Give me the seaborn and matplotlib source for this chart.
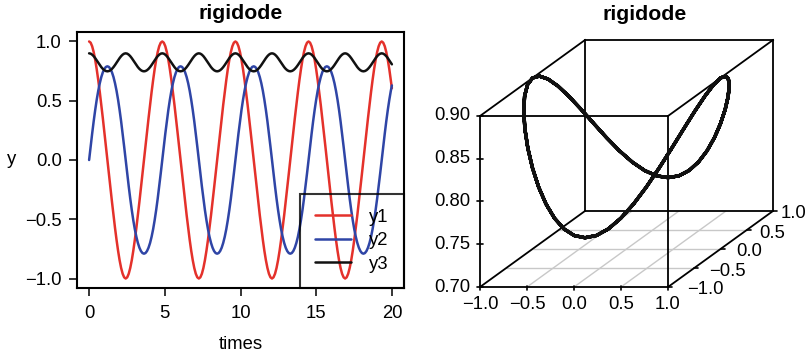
import numpy as np
import pandas as pd
import matplotlib
matplotlib.use("Agg")
import matplotlib.pyplot as plt
from matplotlib.lines import Line2D
import seaborn as sns

# ---------------- data ----------------
times = [0.000, 0.101, 0.201, 0.302, 0.403, 0.503, 0.604, 0.705, 0.805, 0.906, 1.007, 1.107,
         1.208, 1.309, 1.409, 1.510, 1.611, 1.711, 1.812, 1.913, 2.013, 2.114, 2.215, 2.315,
         2.416, 2.517, 2.617, 2.718, 2.819, 2.919, 3.020, 3.121, 3.221, 3.322, 3.423, 3.523,
         3.624, 3.725, 3.825, 3.926, 4.027, 4.127, 4.228, 4.328, 4.429, 4.530, 4.630, 4.731,
         4.832, 4.932, 5.033, 5.134, 5.234, 5.335, 5.436, 5.536, 5.637, 5.738, 5.838, 5.939,
         6.040, 6.140, 6.241, 6.342, 6.442, 6.543, 6.644, 6.744, 6.845, 6.946, 7.046, 7.147,
         7.248, 7.348, 7.449, 7.550, 7.650, 7.751, 7.852, 7.952, 8.053, 8.154, 8.254, 8.355,
         8.456, 8.556, 8.657, 8.758, 8.858, 8.959, 9.060, 9.160, 9.261, 9.362, 9.462, 9.563,
         9.664, 9.764, 9.865, 9.966, 10.066, 10.167, 10.268, 10.368, 10.469, 10.570, 10.670, 10.771,
         10.872, 10.972, 11.073, 11.174, 11.274, 11.375, 11.476, 11.576, 11.677, 11.778, 11.878, 11.979,
         12.080, 12.180, 12.281, 12.381, 12.482, 12.583, 12.683, 12.784, 12.885, 12.985, 13.086, 13.187,
         13.287, 13.388, 13.489, 13.589, 13.690, 13.791, 13.891, 13.992, 14.093, 14.193, 14.294, 14.395,
         14.495, 14.596, 14.697, 14.797, 14.898, 14.999, 15.099, 15.200, 15.301, 15.401, 15.502, 15.603,
         15.703, 15.804, 15.905, 16.005, 16.106, 16.207, 16.307, 16.408, 16.509, 16.609, 16.710, 16.811,
         16.911, 17.012, 17.113, 17.213, 17.314, 17.415, 17.515, 17.616, 17.717, 17.817, 17.918, 18.019,
         18.119, 18.220, 18.321, 18.421, 18.522, 18.623, 18.723, 18.824, 18.925, 19.025, 19.126, 19.227,
         19.327, 19.428, 19.529, 19.629, 19.730, 19.831, 19.931, 20.000]

y1 = [1.0000, 0.9898, 0.9596, 0.9107, 0.8451, 0.7653, 0.6738, 0.5731, 0.4655, 0.3529, 0.2369, 0.1190,
      0.0000, -0.1190, -0.2369, -0.3529, -0.4655, -0.5731, -0.6738, -0.7653, -0.8451, -0.9107, -0.9596, -0.9898,
      -1.0000, -0.9898, -0.9596, -0.9107, -0.8451, -0.7653, -0.6738, -0.5731, -0.4655, -0.3529, -0.2369, -0.1190,
      0.0000, 0.1190, 0.2369, 0.3529, 0.4655, 0.5731, 0.6738, 0.7653, 0.8451, 0.9107, 0.9596, 0.9898,
      1.0000, 0.9898, 0.9596, 0.9107, 0.8451, 0.7653, 0.6738, 0.5731, 0.4655, 0.3529, 0.2369, 0.1190,
      0.0000, -0.1190, -0.2369, -0.3529, -0.4655, -0.5731, -0.6738, -0.7653, -0.8451, -0.9107, -0.9596, -0.9898,
      -1.0000, -0.9898, -0.9596, -0.9107, -0.8451, -0.7653, -0.6738, -0.5731, -0.4655, -0.3529, -0.2369, -0.1190,
      0.0000, 0.1190, 0.2369, 0.3529, 0.4655, 0.5731, 0.6738, 0.7653, 0.8451, 0.9107, 0.9596, 0.9898,
      1.0000, 0.9898, 0.9596, 0.9107, 0.8451, 0.7653, 0.6738, 0.5731, 0.4655, 0.3529, 0.2369, 0.1190,
      0.0000, -0.1190, -0.2369, -0.3529, -0.4655, -0.5731, -0.6738, -0.7653, -0.8451, -0.9107, -0.9596, -0.9898,
      -1.0000, -0.9898, -0.9596, -0.9107, -0.8451, -0.7653, -0.6738, -0.5731, -0.4655, -0.3529, -0.2369, -0.1190,
      0.0000, 0.1190, 0.2369, 0.3529, 0.4655, 0.5731, 0.6738, 0.7653, 0.8451, 0.9107, 0.9596, 0.9898,
      1.0000, 0.9898, 0.9596, 0.9107, 0.8451, 0.7653, 0.6738, 0.5731, 0.4655, 0.3529, 0.2369, 0.1190,
      0.0000, -0.1190, -0.2369, -0.3529, -0.4655, -0.5731, -0.6738, -0.7653, -0.8451, -0.9107, -0.9596, -0.9898,
      -1.0000, -0.9898, -0.9596, -0.9107, -0.8451, -0.7653, -0.6738, -0.5731, -0.4655, -0.3529, -0.2369, -0.1190,
      0.0000, 0.1190, 0.2369, 0.3529, 0.4655, 0.5731, 0.6738, 0.7653, 0.8451, 0.9107, 0.9596, 0.9898,
      1.0000, 0.9898, 0.9596, 0.9107, 0.8451, 0.7653, 0.6738, 0.6058]

y2 = [0.0000, 0.1127, 0.2225, 0.3266, 0.4226, 0.5089, 0.5842, 0.6479, 0.6997, 0.7397, 0.7681, 0.7850,
      0.7906, 0.7850, 0.7681, 0.7397, 0.6997, 0.6479, 0.5842, 0.5089, 0.4226, 0.3266, 0.2225, 0.1127,
      0.0000, -0.1127, -0.2225, -0.3266, -0.4226, -0.5089, -0.5842, -0.6479, -0.6997, -0.7397, -0.7681, -0.7850,
      -0.7906, -0.7850, -0.7681, -0.7397, -0.6997, -0.6479, -0.5842, -0.5089, -0.4226, -0.3266, -0.2225, -0.1127,
      0.0000, 0.1127, 0.2225, 0.3266, 0.4226, 0.5089, 0.5842, 0.6479, 0.6997, 0.7397, 0.7681, 0.7850,
      0.7906, 0.7850, 0.7681, 0.7397, 0.6997, 0.6479, 0.5842, 0.5089, 0.4226, 0.3266, 0.2225, 0.1127,
      0.0000, -0.1127, -0.2225, -0.3266, -0.4226, -0.5089, -0.5842, -0.6479, -0.6997, -0.7397, -0.7681, -0.7850,
      -0.7906, -0.7850, -0.7681, -0.7397, -0.6997, -0.6479, -0.5842, -0.5089, -0.4226, -0.3266, -0.2225, -0.1127,
      0.0000, 0.1127, 0.2225, 0.3266, 0.4226, 0.5089, 0.5842, 0.6479, 0.6997, 0.7397, 0.7681, 0.7850,
      0.7906, 0.7850, 0.7681, 0.7397, 0.6997, 0.6479, 0.5842, 0.5089, 0.4226, 0.3266, 0.2225, 0.1127,
      0.0000, -0.1127, -0.2225, -0.3266, -0.4226, -0.5089, -0.5842, -0.6479, -0.6997, -0.7397, -0.7681, -0.7850,
      -0.7906, -0.7850, -0.7681, -0.7397, -0.6997, -0.6479, -0.5842, -0.5089, -0.4226, -0.3266, -0.2225, -0.1127,
      0.0000, 0.1127, 0.2225, 0.3266, 0.4226, 0.5089, 0.5842, 0.6479, 0.6997, 0.7397, 0.7681, 0.7850,
      0.7906, 0.7850, 0.7681, 0.7397, 0.6997, 0.6479, 0.5842, 0.5089, 0.4226, 0.3266, 0.2225, 0.1127,
      0.0000, -0.1127, -0.2225, -0.3266, -0.4226, -0.5089, -0.5842, -0.6479, -0.6997, -0.7397, -0.7681, -0.7850,
      -0.7906, -0.7850, -0.7681, -0.7397, -0.6997, -0.6479, -0.5842, -0.5089, -0.4226, -0.3266, -0.2225, -0.1127,
      0.0000, 0.1127, 0.2225, 0.3266, 0.4226, 0.5089, 0.5842, 0.6290]

y3 = [0.9000, 0.8972, 0.8889, 0.8760, 0.8594, 0.8405, 0.8207, 0.8013, 0.7837, 0.7689, 0.7577, 0.7507,
      0.7483, 0.7507, 0.7577, 0.7689, 0.7837, 0.8013, 0.8207, 0.8405, 0.8594, 0.8760, 0.8889, 0.8972,
      0.9000, 0.8972, 0.8889, 0.8760, 0.8594, 0.8405, 0.8207, 0.8013, 0.7837, 0.7689, 0.7577, 0.7507,
      0.7483, 0.7507, 0.7577, 0.7689, 0.7837, 0.8013, 0.8207, 0.8405, 0.8594, 0.8760, 0.8889, 0.8972,
      0.9000, 0.8972, 0.8889, 0.8760, 0.8594, 0.8405, 0.8207, 0.8013, 0.7837, 0.7689, 0.7577, 0.7507,
      0.7483, 0.7507, 0.7577, 0.7689, 0.7837, 0.8013, 0.8207, 0.8405, 0.8594, 0.8760, 0.8889, 0.8972,
      0.9000, 0.8972, 0.8889, 0.8760, 0.8594, 0.8405, 0.8207, 0.8013, 0.7837, 0.7689, 0.7577, 0.7507,
      0.7483, 0.7507, 0.7577, 0.7689, 0.7837, 0.8013, 0.8207, 0.8405, 0.8594, 0.8760, 0.8889, 0.8972,
      0.9000, 0.8972, 0.8889, 0.8760, 0.8594, 0.8405, 0.8207, 0.8013, 0.7837, 0.7689, 0.7577, 0.7507,
      0.7483, 0.7507, 0.7577, 0.7689, 0.7837, 0.8013, 0.8207, 0.8405, 0.8594, 0.8760, 0.8889, 0.8972,
      0.9000, 0.8972, 0.8889, 0.8760, 0.8594, 0.8405, 0.8207, 0.8013, 0.7837, 0.7689, 0.7577, 0.7507,
      0.7483, 0.7507, 0.7577, 0.7689, 0.7837, 0.8013, 0.8207, 0.8405, 0.8594, 0.8760, 0.8889, 0.8972,
      0.9000, 0.8972, 0.8889, 0.8760, 0.8594, 0.8405, 0.8207, 0.8013, 0.7837, 0.7689, 0.7577, 0.7507,
      0.7483, 0.7507, 0.7577, 0.7689, 0.7837, 0.8013, 0.8207, 0.8405, 0.8594, 0.8760, 0.8889, 0.8972,
      0.9000, 0.8972, 0.8889, 0.8760, 0.8594, 0.8405, 0.8207, 0.8013, 0.7837, 0.7689, 0.7577, 0.7507,
      0.7483, 0.7507, 0.7577, 0.7689, 0.7837, 0.8013, 0.8207, 0.8405, 0.8594, 0.8760, 0.8889, 0.8972,
      0.9000, 0.8972, 0.8889, 0.8760, 0.8594, 0.8405, 0.8207, 0.8073]

series_names = ["y1", "y2", "y3"]
series_colors = ["#E4312B", "#2F45A6", "#111111"]
x_ticks = [0, 5, 10, 15, 20]
y_ticks = [-1.0, -0.5, 0.0, 0.5, 1.0]
y_ticklabels = ["\u22121.0", "\u22120.5", "0.0", "0.5", "1.0"]
box_x = [-1.0, 1.0]
box_y = [-1.0, 1.0]
box_z = [0.70, 0.90]
ax3_x_ticks = [-1.0, -0.5, 0.0, 0.5, 1.0]
ax3_x_labels = ["\u22121.0", "\u22120.5", "0.0", "0.5", "1.0"]
ax3_y_ticks = [-1.0, -0.5, 0.0, 0.5, 1.0]
ax3_y_labels = ["\u22121.0", "\u22120.5", "0.0", "0.5", "1.0"]
ax3_z_ticks = [0.70, 0.75, 0.80, 0.85, 0.90]
ax3_z_labels = ["0.70", "0.75", "0.80", "0.85", "0.90"]

# ---------------- style ----------------
sns.set_theme(style="ticks")
plt.rcParams["font.family"] = ["Liberation Sans", "DejaVu Sans"]
plt.rcParams["text.color"] = "black"
plt.rcParams["axes.labelcolor"] = "black"
plt.rcParams["xtick.color"] = "black"
plt.rcParams["ytick.color"] = "black"
plt.rcParams["axes.edgecolor"] = "black"
FS = 13.3
TFS = 15.3
LW = 1.8

W, H = 809, 357
fig = plt.figure(figsize=(W / 100, H / 100), dpi=100)

# ---------------- left panel ----------------
ax = fig.add_axes([77 / W, 1 - 288 / H, (404 - 77) / W, (288 - 32) / H])
df = pd.DataFrame({"times": times, "y1": y1, "y2": y2, "y3": y3})
long = df.melt(id_vars="times", var_name="var", value_name="y")
sns.lineplot(data=long, x="times", y="y", hue="var", palette=dict(zip(series_names, series_colors)),
             estimator=None, legend=False, linewidth=LW, ax=ax)
ax.set_xlim(-0.8, 20.8)
ax.set_ylim(-1.08, 1.08)
ax.set_xticks(x_ticks)
ax.set_xticklabels([str(t) for t in x_ticks], fontsize=FS)
ax.set_yticks(y_ticks)
ax.set_yticklabels(y_ticklabels, fontsize=FS)
ax.tick_params(direction="out", length=6, width=1.1)
ax.tick_params(axis="x", pad=6)
ax.tick_params(axis="y", pad=5)
for s in ax.spines.values():
    s.set_linewidth(1.5)
    s.set_color("black")
ax.set_xlabel("times", fontsize=FS)
ax.xaxis.label.set_va("center")
ax.xaxis.set_label_coords(0.5, -0.222)
ax.set_ylabel("y", fontsize=FS, rotation=0, va="center", ha="center")
ax.yaxis.set_label_coords(-0.199, 0.5)
ax.set_title("rigidode", fontsize=TFS, fontweight="bold", pad=9.2)
handles = [Line2D([], [], color=c, lw=LW) for c in series_colors]
leg = ax.legend(handles, series_names, loc="lower right", bbox_to_anchor=(1, 0), borderaxespad=0,
                fancybox=False, frameon=True, fontsize=FS, handlelength=1.95, handletextpad=1.0,
                labelspacing=0.35, borderpad=0.82)
leg.get_frame().set_edgecolor("black")
leg.get_frame().set_facecolor("none")
leg.get_frame().set_linewidth(1.5)

# ---------------- right panel (oblique 3D projection) ----------------
ax2 = fig.add_axes([410 / W, 0, (W - 410) / W, 1])
S = 188.0
ax2.set_xlim(-70 / S, (W - 480) / S)
ax2.set_ylim((287 - H) / S, 287 / S)
ax2.axis("off")
FH, DU, DV = 171 / S, 105 / S, 76 / S


def proj(x, y, z):
    x = np.asarray(x, float); y = np.asarray(y, float); z = np.asarray(z, float)
    s = (y - box_y[0]) / (box_y[1] - box_y[0])
    u = (x - box_x[0]) / (box_x[1] - box_x[0]) + s * DU
    v = (z - box_z[0]) / (box_z[1] - box_z[0]) * FH + s * DV
    return u, v


def seg(p, q, **kw):
    u, v = proj([p[0], q[0]], [p[1], q[1]], [p[2], q[2]])
    ax2.plot(u, v, **kw)


# grid on the bottom face
grid_kw = dict(color="#c8c8c8", lw=1.0, solid_capstyle="butt")
for xt in ax3_x_ticks[1:-1]:
    seg((xt, box_y[0], box_z[0]), (xt, box_y[1], box_z[0]), **grid_kw)
for yt in ax3_y_ticks[1:-1]:
    seg((box_x[0], yt, box_z[0]), (box_x[1], yt, box_z[0]), **grid_kw)

# box edges
edge_kw = dict(color="black", lw=1.3, solid_capstyle="projecting")
X0, X1 = box_x; Y0, Y1 = box_y; Z0, Z1 = box_z
for (a, b) in [((X0, Y0, Z0), (X1, Y0, Z0)), ((X0, Y0, Z1), (X1, Y0, Z1)),
               ((X0, Y0, Z0), (X0, Y0, Z1)), ((X1, Y0, Z0), (X1, Y0, Z1)),
               ((X0, Y1, Z0), (X1, Y1, Z0)), ((X0, Y1, Z1), (X1, Y1, Z1)),
               ((X0, Y1, Z0), (X0, Y1, Z1)), ((X1, Y1, Z0), (X1, Y1, Z1)),
               ((X0, Y0, Z0), (X0, Y1, Z0)), ((X1, Y0, Z0), (X1, Y1, Z0)),
               ((X0, Y0, Z1), (X0, Y1, Z1)), ((X1, Y0, Z1), (X1, Y1, Z1))]:
    seg(a, b, **edge_kw)

# trajectory
pu, pv = proj(y1, y2, y3)
sns.lineplot(x=pu, y=pv, sort=False, estimator=None, color="#111111", linewidth=2.4, ax=ax2)

# ticks and labels
px = 1 / S
for xt, lab in zip(ax3_x_ticks, ax3_x_labels):
    u, v = proj(xt, Y0, Z0)
    ax2.plot([u, u], [v - 2.5 * px, v + 1.5 * px], color="black", lw=1.2)
    ax2.text(u, v - 9 * px, lab, ha="center", va="top", fontsize=FS)
for zt, lab in zip(ax3_z_ticks, ax3_z_labels):
    u, v = proj(X0, Y0, zt)
    ax2.plot([u - 3 * px, u + 3 * px], [v, v], color="black", lw=1.2)
    ax2.text(u - 10 * px, v, lab, ha="right", va="center", fontsize=FS)
for yt, lab in zip(ax3_y_ticks, ax3_y_labels):
    u, v = proj(X1, yt, Z0)
    ax2.plot([u, u + 4 * px], [v, v], color="black", lw=1.2)
    ax2.text(u + (29 - 8 * yt) * px, v - 3 * px, lab, ha="center", va="center", fontsize=FS)

fig.text(645 / W, 1 - 19.5 / H, "rigidode", ha="center", va="baseline",
         fontsize=TFS, fontweight="bold")

fig.savefig("out.png", dpi=100)
